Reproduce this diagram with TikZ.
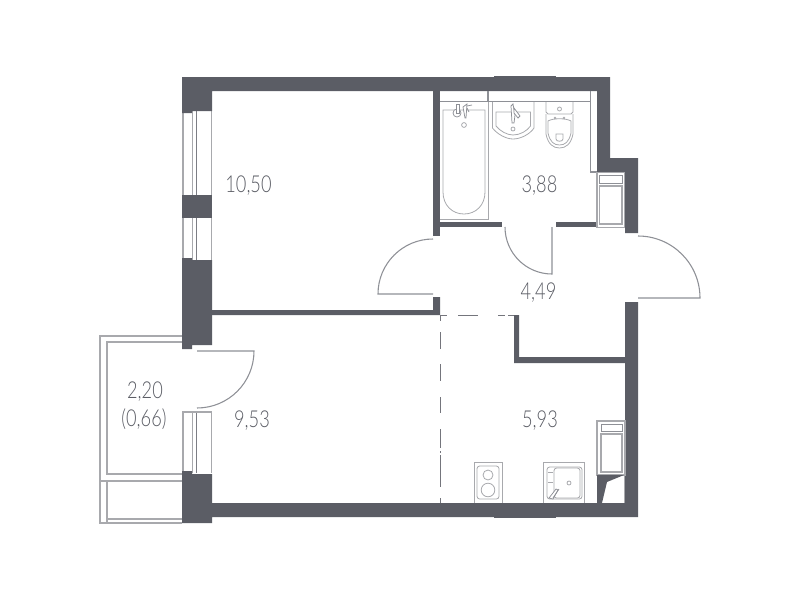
\documentclass[tikz,border=0pt]{standalone}
\usepackage{fontspec}
\setmainfont[FakeStretch=0.78]{Lato Light}
\definecolor{wallc}{HTML}{5B5D65}
\definecolor{linec}{HTML}{A8A9AD}
\definecolor{thinc}{HTML}{8E9096}
\tikzset{
  wall/.style={fill=wallc,draw=none},
  glass/.style={draw=linec,line width=1.1pt},
  fixt/.style={draw=linec,line width=0.6pt},
  fixtd/.style={draw=thinc,line width=0.55pt},
  doorl/.style={draw=thinc,line width=0.8pt},
  zoneline/.style={draw=wallc!85!white,line width=0.7pt},
  area/.style={text=wallc,font=\fontsize{17.5pt}{20pt}\selectfont,inner sep=0pt,anchor=base},
}
\begin{document}
\begin{tikzpicture}[x=0.75pt,y=-0.75pt]
\useasboundingbox (0,0) rectangle (800,600);
% balcony
\draw[glass] (182,336) -- (100,336) -- (100,523) -- (182,523);
\draw[glass] (182,342) -- (107,342) -- (107,474) -- (182,474);
\draw[glass] (100,481) -- (182,481);
\draw[glass] (107,481) -- (107,523);
\draw[glass] (107,519) -- (182,519);
% windows
\foreach \a/\b in {111/195,218/260,412/473}{
  \draw[glass] (183,\a) -- (183,\b);
  \draw[glass] (192.5,\a) -- (192.5,\b);
  \draw[draw=wallc!80!white,line width=0.7pt] (196,\a) -- (196,\b);
  \draw[glass] (211.5,\a) -- (211.5,\b);
}
\draw[glass] (182,412) -- (212,412);
% outer walls
\fill[wall] (182,77) -- (610,77) -- (610,158) -- (638,158) -- (638,233) -- (625,233) -- (625,172) -- (597,172) -- (597,91) -- (212,91) -- (212,111) -- (192,111) -- (192,113) -- (182,113) -- cycle;
\fill[wall] (494,76) rectangle (556,91);
\fill[wall] (182,195) rectangle (212,218);
\fill[wall] (182,258) -- (192,258) -- (192,260) -- (212,260) -- (212,345) -- (192,345) -- (192,349) -- (182,349) -- cycle;
\fill[wall] (182,471) -- (192,471) -- (192,474) -- (212,474) -- (212,503) -- (625,503) -- (625,302) -- (638,302) -- (638,517) -- (212,517) -- (212,523) -- (182,523) -- cycle;
\fill[wall] (494,503) rectangle (556,518);
% inner walls
\fill[wall] (433,91) rectangle (440,236);
\fill[wall] (440,222) rectangle (502,227);
\fill[wall] (556,222) rectangle (597,227);
\fill[wall] (212,310) -- (433,310) -- (433,297) -- (440,297) -- (440,315) -- (212,315) -- cycle;
\fill[wall] (514,315) -- (519,315) -- (519,357) -- (625,357) -- (625,363) -- (514,363) -- cycle;
% shaft lines
\draw[draw=thinc,line width=1.3pt] (440,101.5) -- (590.5,101.5);
\draw[draw=thinc,line width=1.3pt] (590.5,91) -- (590.5,172) -- (597,172);
\draw[draw=thinc,line width=1.3pt] (488,91) -- (488,102);
% zone dashes
\draw[zoneline] (440,315) -- (447,315) (458,315) -- (478,315) (498,315) -- (505,315) (508,315) -- (514,315);
\draw[zoneline] (440,315) -- (440,321) (440,332) -- (440,349) (440,364) -- (440,381) (440,397) -- (440,413) (440,429) -- (440,448) (440,451) -- (440,453) (440,455) -- (440,487) (440,498) -- (440,503);
% doors
\draw[doorl] (505,227) arc[start angle=180,end angle=90,radius=47] -- (552,227);
\draw[doorl] (433,239) arc[start angle=270,end angle=180,radius=55] -- (433,294);
\draw[doorl] (638,236) arc[start angle=270,end angle=360,radius=62] -- (638,298);
\draw[doorl] (197,351) -- (254,351) arc[start angle=0,end angle=90,radius=57];
% washer
\draw[glass,line width=0.8pt] (597,172.5) rectangle (624.5,227.5);
\draw[fixtd] (599.5,175.5) rectangle (622,183);
\draw[glass,line width=0.8pt] (599.5,186) rectangle (622,224);
% bath
\draw[fixt] (440,219) -- (488,219) -- (488,102);
\draw[fixt] (443,110) -- (485,110) -- (485,192) .. controls (485,205) and (476,214) .. (464,214) .. controls (452,214) and (443,205) .. (443,192) -- cycle;
\draw[fixt] (464,125) circle[radius=2.4];
\draw[fixtd,fill=white] (457,113) circle[radius=4];
\draw[fixtd,fill=white] (456,104) -- (459,104) -- (459,113) -- (456,113) -- cycle;
\draw[fixtd,fill=white] (463,107) -- (467,104) -- (466,118) -- (465,118) -- cycle;
\draw[fixtd] (467,106) -- (472,105) (467,108) -- (469,112);
% sink
\draw[fixt] (492.5,102) -- (492.5,128) .. controls (497,134) and (506,139) .. (513,139) .. controls (521,139) and (530,134) .. (534,128) -- (534,102);
\draw[fixt] (496,112) -- (496,126) .. controls (500,131) and (507,135) .. (513,135) .. controls (520,135) and (527,131) .. (530.5,126) -- (530.5,112) -- cycle;
\draw[fixt] (513,129) circle[radius=2];
\draw[fixtd,fill=white] (511,106) -- (513,104) -- (515,115) -- (514,123) -- (512,123) -- cycle;
\draw[fixtd,fill=white] (514,108) -- (520,116) -- (518,118) -- (514,113) -- cycle;
% toilet
\draw[fixt] (546,102) -- (546,112) -- (548,114) -- (571,114) -- (573,112) -- (573,102);
\draw[fixt] (559.5,109) circle[radius=2];
\draw[fixt] (546,114) -- (546,134) .. controls (548,144) and (553,148) .. (559.5,148) .. controls (566,148) and (571,144) .. (573,134) -- (573,114);
\draw[fixt] (548,121) .. controls (553,118) and (566,118) .. (571,121) -- (571,133) .. controls (569,142) and (565,145) .. (559.5,145) .. controls (554,145) and (550,142) .. (548,133) -- cycle;
\draw[fixt] (555,118) circle[radius=0.9] (564,118) circle[radius=0.9];
\draw[fixt] (556,134) -- (563,134) -- (563,139) .. controls (563,142) and (556,142) .. (556,139) -- cycle;
% stove
\draw[fixt] (474,503) -- (474,462) -- (502,462) -- (502,503);
\draw[fixt,rounded corners=2pt] (477,466) rectangle (499,499);
\draw[fixt] (488,475) circle[radius=5];
\draw[fixt] (488,490) circle[radius=6.8];
% kitchen sink
\draw[fixt] (543,503) -- (543,462) -- (584,462) -- (584,503);
\draw[fixt,rounded corners=2pt] (547,467) rectangle (582,499);
\draw[fixt,rounded corners=2pt] (554,468) rectangle (580,498);
\draw[fixt] (569,483) circle[radius=2];
\draw[fixt] (548,472) -- (553,472) (548,482) -- (553,482);
\draw[fixtd,fill=white] (549,498) -- (556,489) -- (558,490) -- (553,499) -- cycle;
\draw[fixtd] (553,498) -- (559,489);
% fridge
\draw[glass,line width=0.8pt] (597,421) rectangle (625,475);
\draw[fixtd] (601,424) rectangle (622,431);
\draw[glass,line width=0.8pt] (601,434) rectangle (622,472);
\fill[wall] (597,475) -- (624,475) -- (607,482) -- (602,503) -- (597,503) -- cycle;
\draw[fixt] (624.5,475) -- (624.5,503);
% labels
\node[area] (a1) at (248.5,192) {10,50};
\node[area] (a2) at (539.5,192.5) {3,88};
\node[area] (a3) at (538.5,299) {4,49};
\node[area] (a4) at (252,427) {9,53};
\node[area] (a5) at (540,427) {5,93};
\node[area] (a6) at (145,398) {2,20};
\node[area] (a7) at (144,426) {(0,66)};
\end{tikzpicture}
\end{document}
